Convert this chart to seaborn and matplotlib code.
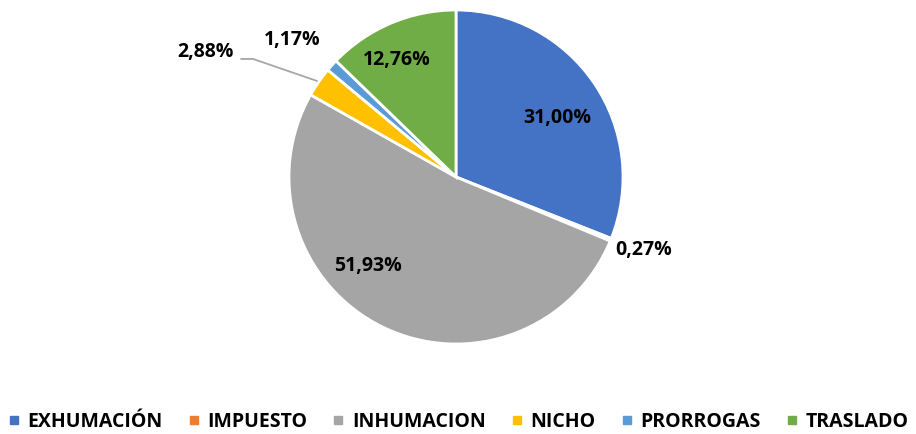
import matplotlib.pyplot as plt
import seaborn as sns
from matplotlib.lines import Line2D

sns.set_theme(style="white")
plt.rcParams['font.family'] = ['Open Sans', 'DejaVu Sans']

categories = ["EXHUMACIÓN", "IMPUESTO", "INHUMACION", "NICHO", "PRORROGAS", "TRASLADO"]
values = [31.00, 0.27, 51.93, 2.88, 1.17, 12.76]
labels = ["31,00%", "0,27%", "51,93%", "2,88%", "1,17%", "12,76%"]
colors = ["#4472C4", "#ED7D31", "#A5A5A5", "#FFC000", "#5B9BD5", "#70AD47"]

# label positions in pie units (radius = 1), like Excel's best fit
label_pos = [(0.605, 0.353), (1.126, -0.437), (-0.527, -0.533),
             (-1.503, 0.749), (-0.982, 0.820), (-0.353, 0.701)]

fig = plt.figure(figsize=(9.16, 4.34), dpi=100)
ax = fig.add_axes([289 / 916, 90 / 434, 334 / 916, 334 / 434])
ax.pie(values, colors=colors, startangle=90, counterclock=False, radius=1,
       wedgeprops=dict(edgecolor="white", linewidth=2))
ax.set_xlim(-1, 1)
ax.set_ylim(-1, 1)

for lab, (x, y) in zip(labels, label_pos):
    ax.text(x, y, lab, ha="center", va="center", fontsize=14,
            fontweight="bold", color="black", clip_on=False)

# leader line for NICHO
ax.plot([-1.287, -1.216, -0.832], [0.707, 0.707, 0.575], color="#A6A6A6",
        lw=1.3, clip_on=False)

handles = [Line2D([0], [0], marker="s", linestyle="", markersize=6,
                  markerfacecolor=c, markeredgecolor=c) for c in colors]
leg = fig.legend(handles, categories, loc="center", bbox_to_anchor=(0.5, 12 / 434),
                 ncol=6, frameon=False, handlelength=0.6, handletextpad=0.4,
                 columnspacing=1.3, prop=dict(family="Open Sans", weight="bold", size=14))
for t in leg.get_texts():
    t.set_color("black")

fig.savefig("out.png", dpi=100)
